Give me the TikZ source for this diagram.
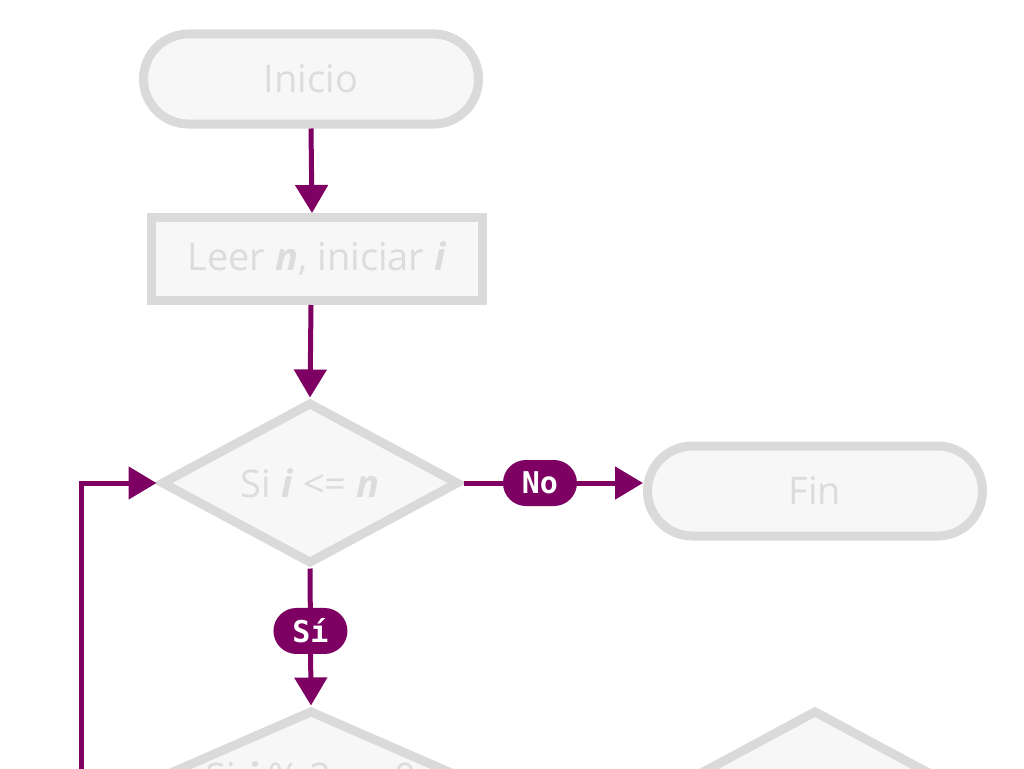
\documentclass[tikz,border=0pt]{standalone}
\usepackage{fontspec}
\setmainfont{Open Sans}
\newfontfamily\monof{DejaVu Sans Mono}
\usetikzlibrary{shapes.geometric,shapes.misc,arrows.meta,calc}
\definecolor{bord}{HTML}{DADADA}
\definecolor{fillc}{HTML}{F7F7F7}
\definecolor{txtc}{HTML}{DCDCDC}
\definecolor{purp}{RGB}{125,0,98}
\newcommand{\bvar}[1]{\textbf{\textit{#1}}}
\begin{document}
\begin{tikzpicture}[x=1pt,y=-1pt,
  base/.style={draw=bord, fill=fillc, line width=9pt, text=txtc, inner sep=0pt,
    font=\fontsize{38}{44}\selectfont},
  term/.style={base, rounded rectangle, minimum width=335pt, minimum height=90pt},
  proc/.style={base, rectangle, minimum width=331pt, minimum height=83pt},
  dec/.style={base, diamond, minimum width=298pt, minimum height=162pt},
  dectext/.style={text=txtc, inner sep=0pt, font=\fontsize{38}{44}\selectfont},
  conn/.style={draw=purp, line width=5pt, -{Triangle[length=28pt,width=32pt]}},
  pill/.style={fill=purp, text=white, rounded rectangle, minimum width=74pt,
    minimum height=46pt, inner sep=0pt, font=\monof\bfseries\fontsize{30}{34}\selectfont}
]
\path[use as bounding box, fill=white] (0,0) rectangle (1024,768);

\node[term] (ini) at (311,79) {Inicio};
\node[proc] (leer) at (317,259) {Leer \bvar{n}, iniciar \bvar{i}};
\node[dec, label={[dectext]center:Si \bvar{i} <= \bvar{n}}] (d1) at (310,483) {};
\node[term] (fin) at (815,491) {Fin};
\node[dec, minimum height=132pt, label={[dectext]center:Si \bvar{i} \% 2 == 0}] (d2) at (311,776) {};
\node[dec] (d3) at (815,791) {};
\coordinate (lp) at (81,800);

\draw[conn] (ini.south) -- ($(leer.north)+(-5,0)$);
\draw[conn] ($(leer.south)+(-6,0)$) -- (d1.north);
\draw[conn] (d1.east) -- (d1.east -| fin.west) node[pill, pos=0.426] {No};
\draw[conn] (d1.south) -- (d2.north) node[pill, pos=0.456] {Sí};
\draw[conn] (lp) |- (d1.west);
\end{tikzpicture}
\end{document}
